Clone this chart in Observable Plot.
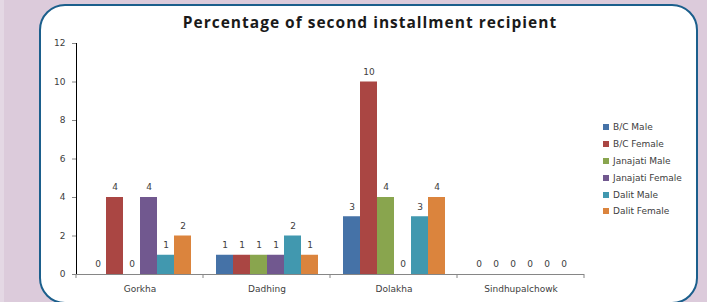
<!DOCTYPE html>
<html>
<head>
<meta charset="utf-8">
<script src="https://cdn.jsdelivr.net/npm/d3@7"></script>
<script src="https://cdn.jsdelivr.net/npm/@observablehq/plot@0.6"></script>
<style>
  html, body { margin: 0; padding: 0; }
  body { width: 707px; height: 302px; overflow: hidden; position: relative; background: #dccbdb; font-family: "DejaVu Sans", sans-serif; }
  #strip { position: absolute; left: 0; top: 0; width: 4px; height: 302px; background: #e4d8e4; }
  #box { position: absolute; left: 39px; top: 4px; width: 655px; height: 296px; border: 2.5px solid #1b5f8c; border-radius: 26px; background: #fff; }
  #title { position: absolute; left: 120px; width: 500px; top: 11px; text-align: center; font-family: "Open Sans", sans-serif; font-weight: bold; font-size: 15.5px; letter-spacing: 1px; color: #1a1a1a; }
  #chart { position: absolute; left: 0; top: 0; }
  #chart svg text { fill: #404040; }
  #chart svg [aria-label^="y-axis"] line, #chart svg [aria-label^="y-axis"] path { stroke: #868686; }
  #legend { position: absolute; left: 603px; top: 119px; font-size: 9px; color: #404040; }
  .item { height: 16.8px; display: flex; align-items: center; white-space: nowrap; margin-top: 0; }
  .sw { width: 6px; height: 6px; margin-right: 4px; }
</style>
</head>
<body>
<div id="strip"></div>
<div id="box"></div>
<div id="title">Percentage of second installment recipient</div>
<div id="chart"></div>
<div id="legend"></div>
<script>
const categories = ["Gorkha", "Dadhing", "Dolakha", "Sindhupalchowk"];
const series = ["B/C Male", "B/C Female", "Janajati Male", "Janajati Female", "Dalit Male", "Dalit Female"];
const colors = ["#4572a7", "#aa4643", "#89a54e", "#71588f", "#4198af", "#db843d"];
const gorkha = [0, 4, 0, 4, 1, 2];
const dadhing = [1, 1, 1, 1, 2, 1];
const dolakha = [3, 10, 4, 0, 3, 4];
const sindhupalchowk = [0, 0, 0, 0, 0, 0];
const yTicks = [0, 2, 4, 6, 8, 10, 12];

const valuesByCategory = [gorkha, dadhing, dolakha, sindhupalchowk];
const data = [];
categories.forEach((c, i) => series.forEach((s, j) => data.push({category: c, series: s, value: valuesByCategory[i][j]})));

const chart = Plot.plot({
  width: 707,
  height: 302,
  marginLeft: 76,
  marginRight: 123,
  marginTop: 43,
  marginBottom: 28,
  style: {background: "transparent", fontFamily: "DejaVu Sans, sans-serif", fontSize: "9px", overflow: "visible"},
  facet: {data, x: "category"},
  fx: {domain: categories, padding: 0, label: null, tickSize: 0, tickPadding: 11},
  x: {domain: series, axis: null, paddingInner: 0, paddingOuter: 0.735},
  y: {domain: [0, 12], ticks: yTicks, tickSize: 4, tickPadding: 7, line: true, label: null},
  color: {domain: series, range: colors},
  marks: [
    Plot.barY(data, {x: "series", y: "value", fill: "series"}),
    Plot.text(data, {x: "series", y: "value", text: d => String(d.value), dy: -10, fill: "#404040", fontSize: 9}),
    Plot.ruleY([0], {stroke: "#868686"})
  ]
});
document.getElementById("chart").appendChild(chart);

// boundary ticks between category bands on the x axis
try {
  const fx = chart.scale("fx");
  const y = chart.scale("y");
  const y0 = y.apply(0);
  const edges = categories.map(c => fx.apply(c));
  edges.push(fx.apply(categories[categories.length - 1]) + fx.bandwidth);
  const g = d3.select(chart).append("g").attr("stroke", "#868686");
  edges.forEach(e => g.append("line").attr("x1", e).attr("x2", e).attr("y1", y0).attr("y2", y0 + 4));
} catch (err) {}

const legend = document.getElementById("legend");
series.forEach((s, i) => {
  const item = document.createElement("div");
  item.className = "item";
  item.innerHTML = `<span class="sw" style="background:${colors[i]}"></span><span>${s}</span>`;
  legend.appendChild(item);
});
</script>
</body>
</html>
